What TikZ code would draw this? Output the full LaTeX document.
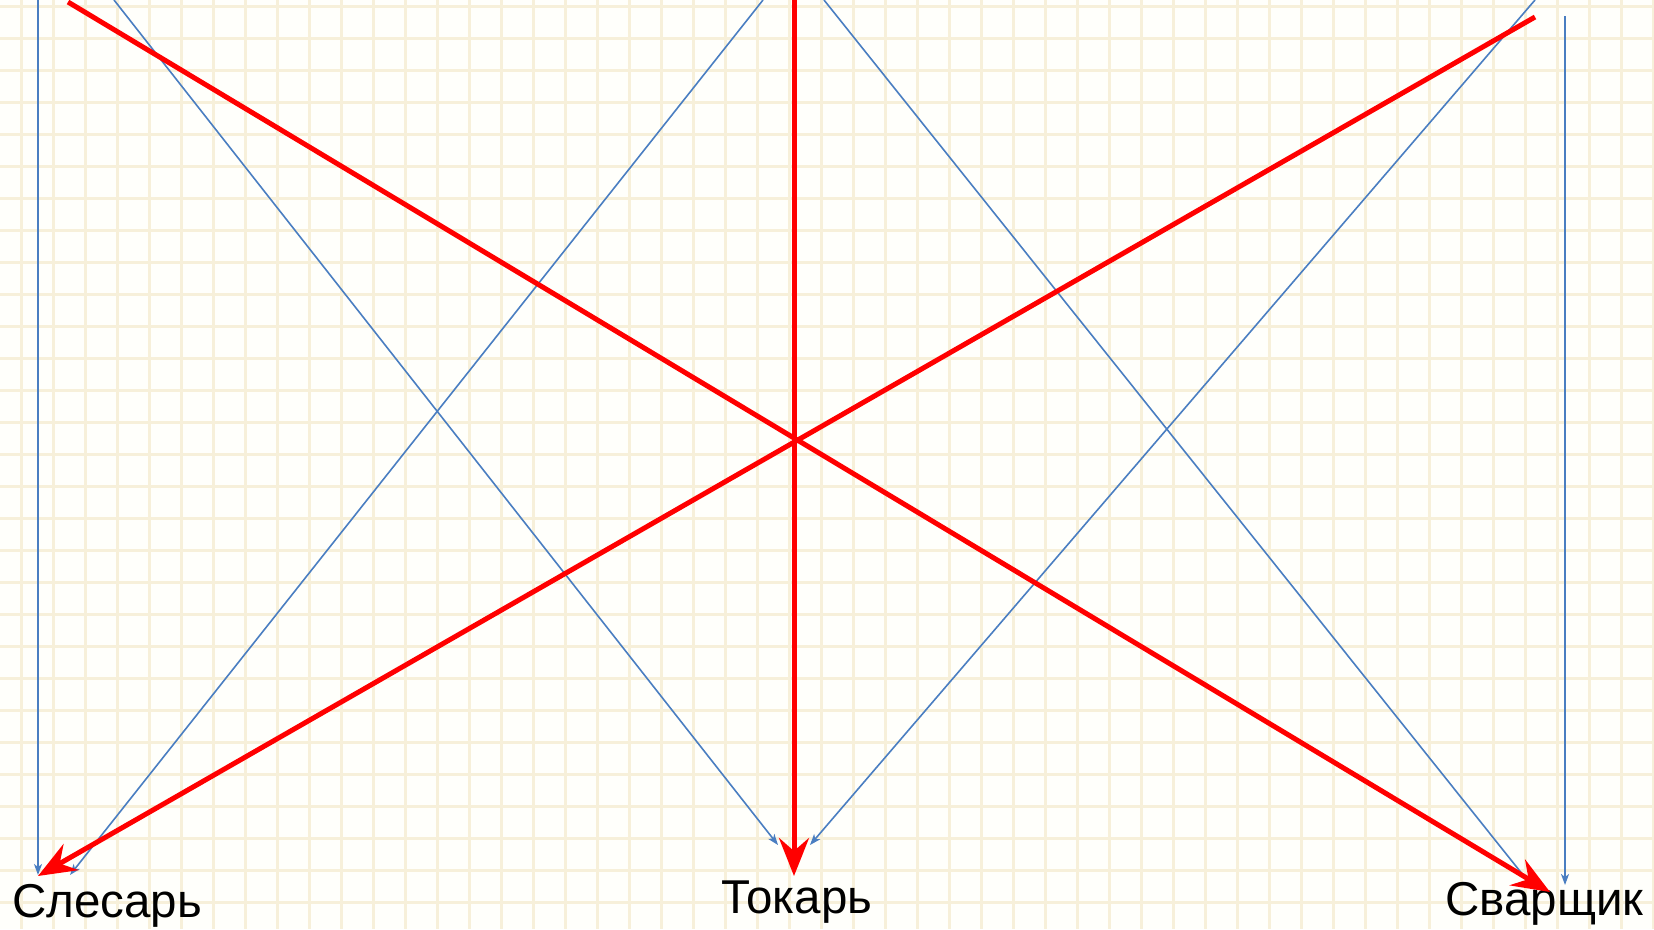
\documentclass[tikz,border=0pt]{standalone}
\usepackage{fontspec}
\setmainfont{Liberation Sans}
\usetikzlibrary{arrows.meta}
\definecolor{paper}{RGB}{255,255,251}
\definecolor{gridc}{RGB}{247,240,218}
\definecolor{blueln}{RGB}{74,126,193}
\tikzset{
  redarrow/.style={draw=red, line width=5pt, -{Stealth[length=38pt,width=30pt,inset=13pt]}},
  bluearrow/.style={draw=blueln, line width=1.6pt, -{Stealth[length=11pt,width=8pt,inset=3pt]}},
  lbl/.style={anchor=base west, inner sep=0pt, font=\fontsize{47.5}{52}\selectfont},
  gridline/.style={draw=gridc, line width=2.6pt},
}
\begin{document}
\begin{tikzpicture}[x=1pt,y=-1pt]
\fill[paper] (0,0) rectangle (1654,929);
\useasboundingbox (0,0) rectangle (1654,929);
\foreach \i in {0,...,51} \draw[gridline] ({21.7+32*\i},0) -- ({21.7+32*\i},929);
\foreach \i in {0,...,28} \draw[gridline] (0,{6.5+32*\i}) -- (1654,{6.5+32*\i});

% labels
\node[lbl] (sles) at (12,917) {Слесарь};
\node[lbl] (tok) at (721,913) {Токарь};
\node[lbl] (svar) at (1445,915) {Сварщик};

% start points
\coordinate (b1s) at (38,0);
\coordinate (b2s) at (114,0);
\coordinate (b3s) at (763,0);
\coordinate (b4s) at (824,0);
\coordinate (b5s) at (1535,0);
\coordinate (b6s) at (1565,16);
\coordinate (r1s) at (68,2);
\coordinate (r2s) at (1535,17);
\coordinate (r3s) at (794,0);

% end points
\coordinate (b1e) at (38,875);
\coordinate (b2e) at (778,845);
\coordinate (b3e) at (70,875);
\coordinate (b4e) at (1535,890);
\coordinate (b5e) at (810,845);
\coordinate (b6e) at (1565,885);
\coordinate (r1e) at (1550,892);
\coordinate (r2e) at (38,876);
\coordinate (r3e) at (794,876);

% blue connectors
\draw[bluearrow] (b1s) -- (b1e);
\draw[bluearrow] (b2s) -- (b2e);
\draw[bluearrow] (b3s) -- (b3e);
\draw[bluearrow] (b4s) -- (b4e);
\draw[bluearrow] (b5s) -- (b5e);
\draw[bluearrow] (b6s) -- (b6e);

% red connectors
\draw[redarrow] (r1s) -- (r1e);
\draw[redarrow] (r2s) -- (r2e);
\draw[redarrow] (r3s) -- (r3e);
\end{tikzpicture}
\end{document}
